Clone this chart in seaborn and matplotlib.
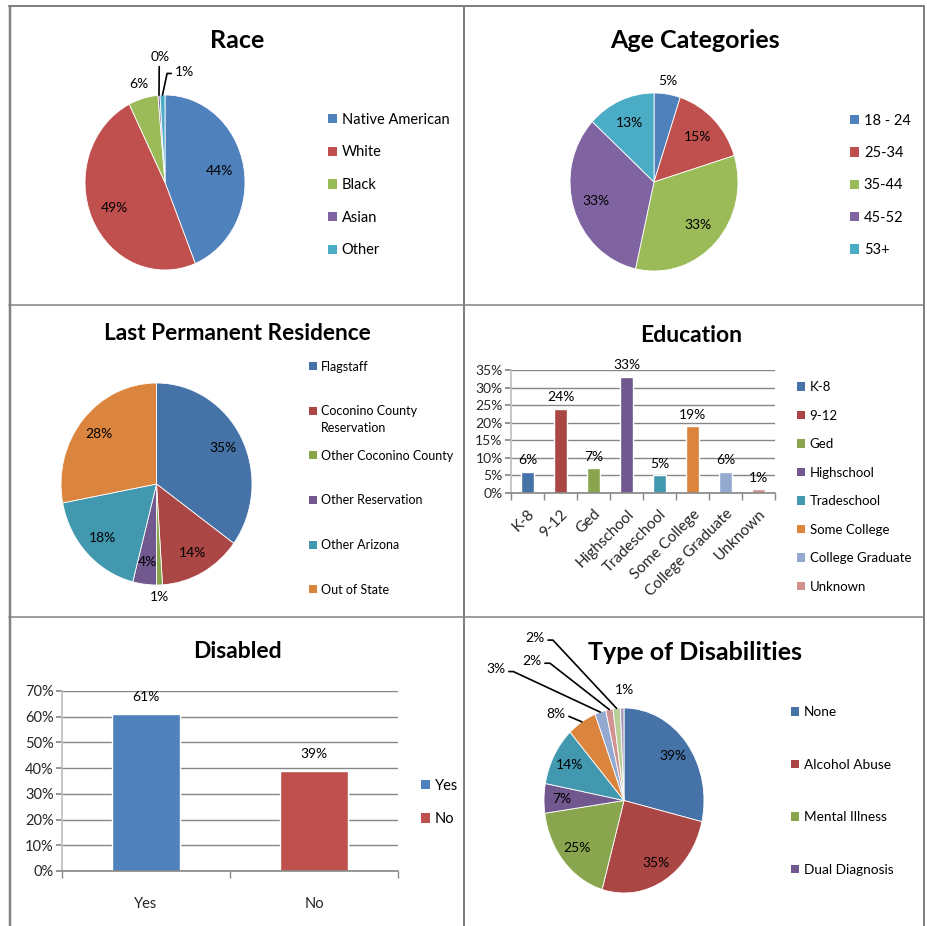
import numpy as np
import seaborn as sns
import matplotlib.pyplot as plt
from matplotlib.patches import Patch
from matplotlib.lines import Line2D
from matplotlib.ticker import FuncFormatter

# ---- data ----
race_labels = ["Native American", "White", "Black", "Asian", "Other"]
race_values = [44, 49, 6, 0.4, 1]

age_labels = ["18 - 24", "25-34", "35-44", "45-52", "53+"]
age_values = [5, 15, 33, 33, 13]

res_labels = ["Flagstaff", "Coconino County\nReservation", "Other Coconino County",
              "Other Reservation", "Other Arizona", "Out of State"]
res_values = [35, 14, 1, 4, 18, 28]

edu_labels = ["K-8", "9-12", "Ged", "Highschool", "Tradeschool",
              "Some College", "College Graduate", "Unknown"]
edu_values = [6, 24, 7, 33, 5, 19, 6, 1]

dis_labels = ["Yes", "No"]
dis_values = [61, 39]

dtype_labels = ["None", "Alcohol Abuse", "Mental Illness", "Dual Diagnosis"]
dtype_values = [39, 35, 25, 7, 14, 8, 3, 2, 2, 1]

bright = ["#4F81BD", "#C0504D", "#9BBB59", "#8064A2", "#4BACC6"]
muted = ["#4572A7", "#AA4643", "#89A54E", "#71588F", "#4198AF",
         "#DB843D", "#93A9CF", "#D19392", "#B9CD96", "#A99BBD"]

sns.set_theme(style="white")
plt.rcParams['font.family'] = ['Lato', 'DejaVu Sans']
plt.rcParams['text.color'] = 'black'

W, H = 927, 926
fig = plt.figure(figsize=(W / 100, H / 100), dpi=100)
fig.patch.set_facecolor("white")


def box(l, t, r, b):
    return [l / W, 1 - b / H, (r - l) / W, (b - t) / H]


def frac(x, y):
    return x / W, 1 - y / H


def title(x, y, text, size):
    fig.text(*frac(x, y), text, ha="center", va="center", fontsize=size, fontweight="bold")


def legend(labels, colors, x, y_first, step, fs=10):
    fs_px = fs * 100 / 72
    rowh = 0.865 * fs_px
    handles = [Patch(facecolor=c, edgecolor="none") for c in colors]
    return fig.legend(handles, labels, loc="upper left",
                      bbox_to_anchor=frac(x, y_first - rowh / 2), frameon=False,
                      fontsize=fs, borderpad=0, borderaxespad=0, handlelength=0.6,
                      handleheight=0.6, handletextpad=0.35,
                      labelspacing=(step - rowh) / fs_px)


def pie(cx, cy, rx, ry, values, colors, r_lab, outside=None):
    E = 1.9
    ax = fig.add_axes(box(cx - E * rx, cy - E * ry, cx + E * rx, cy + E * ry))
    wedges, _ = ax.pie(values, colors=colors, startangle=90, counterclock=False,
                       wedgeprops=dict(edgecolor="white", linewidth=0.6))
    ax.set_aspect("auto")
    ax.set_xlim(-E, E)
    ax.set_ylim(-E, E)
    ax.axis("off")
    outside = outside or {}
    for i, (w, v) in enumerate(zip(wedges, values)):
        mid = np.deg2rad((w.theta1 + w.theta2) / 2)
        txt = f"{v:.0f}%"
        if i in outside:
            tx, ty, line = outside[i]
            if line:
                relpos, angb = line
                ax.annotate(txt, xy=(np.cos(mid), np.sin(mid)), xytext=(tx, ty),
                            ha="center", va="center", fontsize=10,
                            arrowprops=dict(arrowstyle="-", color="black", lw=1.2,
                                            relpos=relpos, shrinkA=0, shrinkB=0,
                                            connectionstyle=f"angle,angleA=0,angleB={angb},rad=0"
                                            if angb is not None else "arc3"))
            else:
                ax.text(tx, ty, txt, ha="center", va="center", fontsize=10)
        else:
            ax.text(r_lab * np.cos(mid), r_lab * np.sin(mid), txt,
                    ha="center", va="center", fontsize=10)
    return ax


def style_bar_axes(ax, ymax, step, n):
    ax.set_ylim(0, ymax)
    ax.set_xlim(-0.5, n - 0.5)
    ax.set_yticks(np.arange(0, ymax + 0.01, step))
    ax.yaxis.set_major_formatter(FuncFormatter(lambda v, p: f"{v:.0f}%"))
    ax.grid(axis="y", color="#868686", lw=1)
    ax.set_axisbelow(True)
    for s in ["top", "right"]:
        ax.spines[s].set_visible(False)
    ax.spines["left"].set_color("#BFBFBF")
    ax.spines["bottom"].set_color("#868686")
    ax.spines["bottom"].set_linewidth(1.2)
    ax.tick_params(axis="y", left=True, length=4, color="#868686", labelsize=10, pad=2)
    ax.set_xticks(np.arange(-0.5, n, 1), minor=True)
    ax.tick_params(axis="x", which="minor", bottom=True, length=5, color="#868686")
    ax.tick_params(axis="x", which="major", bottom=False)
    ax.set_xlabel("")
    ax.set_ylabel("")


# ---- Race ----
title(237, 40, "Race", 18)
pie(165, 182.5, 80, 87.5, race_values, bright, 0.7,
    outside={2: (-0.33, 1.12, None),
             3: (-0.06, 1.43, ((0.45, 0.0), None)),
             4: (0.24, 1.26, ((0.0, 0.4), 78))})
legend(race_labels, bright, 328, 119, 31.3, fs=10.5)

# ---- Age ----
title(695, 40, "Age Categories", 18)
pie(654, 182, 84, 89, age_values, bright, 0.72,
    outside={0: (0.17, 1.14, None)})
legend(age_labels, bright, 850, 120, 31, fs=10.5)

# ---- Last Permanent Residence ----
title(237, 333, "Last Permanent Residence", 16.3)
pie(156.5, 484, 95.5, 101, res_values, muted[:6], 0.78,
    outside={2: (0.03, -1.12, None)})
res_first = [s.split("\n")[0] for s in res_labels]
leg = legend(res_first, muted[:6], 309, 366, 43.4, fs=9)
fig.canvas.draw()
for full, t in zip(res_labels, leg.get_texts()):
    extra = full.split("\n")[1:]
    if extra:
        bb = t.get_window_extent()
        fig.text(bb.x0 / W, (bb.y0 - 17) / H, "\n".join(extra), fontsize=9,
                 ha="left", va="bottom")

# ---- Education ----
title(691, 336, "Education", 16.5)
ax = fig.add_axes(box(511, 370, 775, 493))
sns.barplot(x=edu_labels, y=edu_values, hue=edu_labels, palette=muted[:8],
            width=0.4, legend=False, ax=ax, saturation=1)
style_bar_axes(ax, 35, 5, len(edu_labels))
ax.tick_params(axis="x", which="major", labelsize=11, pad=4)
for lab in ax.get_xticklabels():
    lab.set_rotation(45)
    lab.set_ha("right")
    lab.set_rotation_mode("anchor")
for c in ax.containers:
    ax.bar_label(c, fmt="%.0f%%", fontsize=10, padding=4)
legend(edu_labels, muted[:8], 797, 387, 27.9, fs=9.5)

# ---- Disabled ----
title(237, 652, "Disabled", 16.5)
ax = fig.add_axes(box(62, 691, 398, 871))
sns.barplot(x=dis_labels, y=dis_values, hue=dis_labels, palette=bright[:2],
            width=0.4, legend=False, ax=ax, saturation=1)
style_bar_axes(ax, 70, 10, len(dis_labels))
ax.tick_params(axis="y", labelsize=10.5)
ax.tick_params(axis="x", which="major", labelsize=10.5, pad=13)
for c in ax.containers:
    ax.bar_label(c, fmt="%.0f%%", fontsize=10, padding=8)
legend(dis_labels, bright[:2], 421, 785, 32, fs=10.5)

# ---- Type of Disabilities ----
title(695, 652, "Type of Disabilities", 18)
pie(624, 800.5, 80, 92.5, dtype_values, muted, 0.78,
    outside={5: (-0.85, 0.94, ((1.0, 0.3), -23)),
             6: (-1.6, 1.42, ((1.0, 0.3), -25)),
             7: (-1.15, 1.51, ((1.0, 0.3), -38)),
             8: (-1.11, 1.76, ((1.0, 0.3), -47)),
             9: (0.0, 1.19, None)})
legend(dtype_labels, muted[:4], 791, 712, 52.3, fs=9.8)

# ---- panel borders ----
grey = "#808080"
for (x0, y0, x1, y1, lw) in [(9, 6, 924, 6, 2), (9.5, 6, 9.5, 926, 2.5), (924, 6, 924, 926, 2),
                             (464, 6, 464, 926, 2), (9, 305, 924, 305, 1.5),
                             (9, 617, 924, 617, 1.5)]:
    fig.add_artist(Line2D([x0 / W, x1 / W], [1 - y0 / H, 1 - y1 / H],
                          color=grey, lw=lw * 0.72, transform=fig.transFigure))

fig.savefig("out.png", dpi=100, facecolor="white")
